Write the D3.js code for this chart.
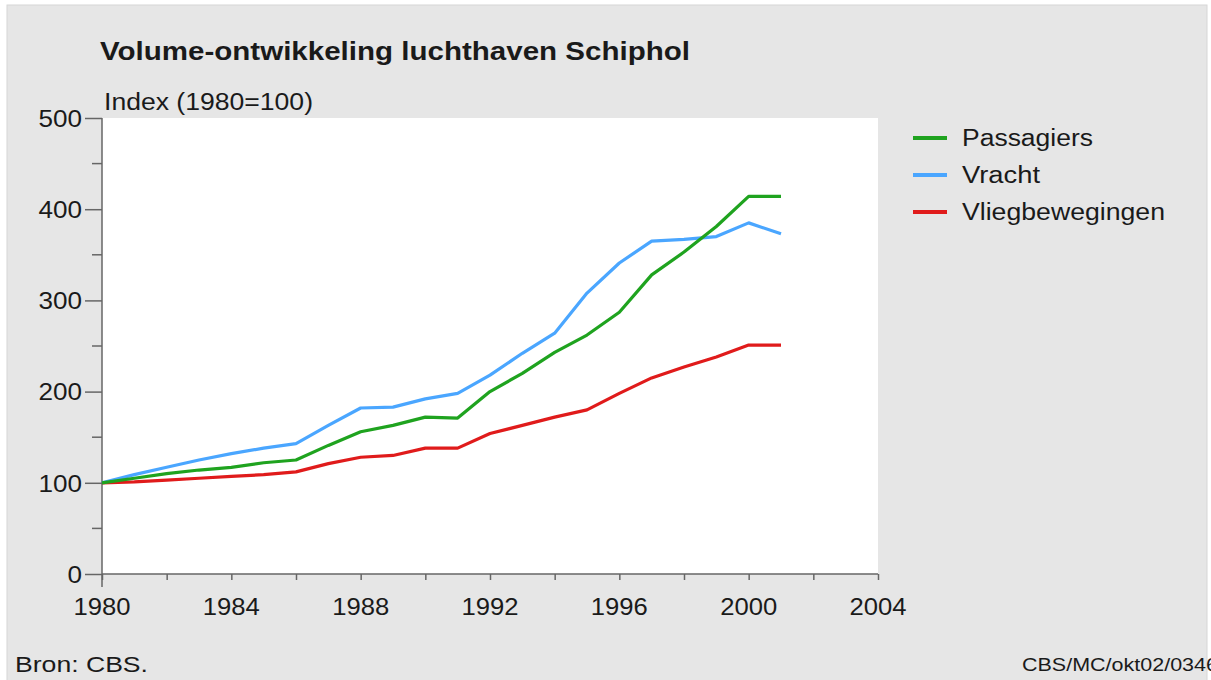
<!DOCTYPE html>
<html>
<head>
<meta charset="utf-8">
<script src="https://cdn.jsdelivr.net/npm/d3@7"></script>
<style>
  body { margin: 0; background: #ffffff; }
  text { font-family: "Liberation Sans", Arial, sans-serif; fill: #1a1a1a; }
</style>
</head>
<body>
<div id="chart"></div>
<script>
// data
let years = [1980, 1981, 1982, 1983, 1984, 1985, 1986, 1987, 1988, 1989, 1990,
             1991, 1992, 1993, 1994, 1995, 1996, 1997, 1998, 1999, 2000, 2001];
let passagiers = [100, 105, 110, 114, 117, 122, 125, 141, 156, 163, 172,
                  171, 200, 220, 243, 262, 287, 328, 353, 381, 414, 414];
let vracht = [100, 109, 117, 125, 132, 138, 143, 163, 182, 183, 192,
              198, 218, 242, 264, 308, 341, 365, 367, 370, 385, 373];
let vliegbewegingen = [100, 101, 103, 105, 107, 109, 112, 121, 128, 130, 138,
                       138, 154, 163, 172, 180, 198, 215, 227, 238, 251, 251];
let seriesNames = ["Passagiers", "Vracht", "Vliegbewegingen"];
let seriesColors = ["#1fa31f", "#4aa6ff", "#e01b1b"];
let yTicks = [0, 100, 200, 300, 400, 500];
let xTicks = [1980, 1984, 1988, 1992, 1996, 2000, 2004];

document.addEventListener("DOMContentLoaded", () => {
  let W = 1211, H = 680;
  let margin = { top: 118, right: 333, bottom: 106, left: 102 };
  let width = W - margin.left - margin.right;
  let height = H - margin.top - margin.bottom;

  let root = d3.select("#chart").append("svg")
      .attr("width", W)
      .attr("height", H);

  // grey panel
  root.append("rect")
      .attr("x", 7).attr("y", 5)
      .attr("width", 1200).attr("height", 680)
      .style("fill", "#e6e6e6")
      .style("stroke", "#d6d6d6");

  root.append("text")
      .attr("x", 100).attr("y", 60)
      .attr("textLength", 590).attr("lengthAdjust", "spacingAndGlyphs")
      .style("font-size", "25px").style("font-weight", "bold")
      .text("Volume-ontwikkeling luchthaven Schiphol");

  root.append("text")
      .attr("x", 104).attr("y", 110)
      .attr("textLength", 209).attr("lengthAdjust", "spacingAndGlyphs")
      .style("font-size", "23px")
      .text("Index (1980=100)");

  root.append("text")
      .attr("x", 15).attr("y", 672)
      .attr("textLength", 133).attr("lengthAdjust", "spacingAndGlyphs")
      .style("font-size", "22px")
      .text("Bron: CBS.");

  root.append("text")
      .attr("x", 1022).attr("y", 671)
      .attr("textLength", 196).attr("lengthAdjust", "spacingAndGlyphs")
      .style("font-size", "18px")
      .text("CBS/MC/okt02/0346");

  let svg = root.append("g")
      .attr("transform", "translate(" + margin.left + "," + margin.top + ")");

  svg.append("rect")
      .attr("width", width).attr("height", height)
      .style("fill", "#ffffff");

  let x = d3.scaleLinear().domain([1980, 2004]).range([0, width]);
  let y = d3.scaleLinear().domain([0, 500]).range([height, 0]);

  // y axis: major ticks with labels, minor ticks in between
  let yAxis = svg.append("g")
      .call(d3.axisLeft(y).tickValues(yTicks).tickSize(17).tickPadding(3));
  yAxis.select(".domain").remove();
  yAxis.selectAll("line").style("stroke", "#666").style("stroke-width", 1.5);
  yAxis.selectAll("text")
      .style("font-size", "23px").style("fill", "#1a1a1a")
      .attr("dy", "0.36em")
      .attr("textLength", d => String(d).length * 14.5)
      .attr("lengthAdjust", "spacingAndGlyphs");

  svg.append("g")
      .selectAll("line")
      .data(d3.range(50, 500, 100))
      .enter().append("line")
      .attr("x1", -10).attr("x2", 0)
      .attr("y1", d => y(d)).attr("y2", d => y(d))
      .style("stroke", "#666").style("stroke-width", 1.5);

  // x axis
  let xAxis = svg.append("g")
      .attr("transform", "translate(0," + height + ")")
      .call(d3.axisBottom(x).tickValues(d3.range(1980, 2005, 2)).tickSize(6).tickFormat(""));
  xAxis.select(".domain").remove();
  xAxis.selectAll("line").style("stroke", "#666").style("stroke-width", 1.5);

  svg.append("g")
      .selectAll("text")
      .data(xTicks)
      .enter().append("text")
      .attr("x", d => x(d))
      .attr("y", height + 41)
      .attr("text-anchor", "middle")
      .attr("textLength", 57).attr("lengthAdjust", "spacingAndGlyphs")
      .style("font-size", "23px")
      .text(d => d);

  svg.append("line")
      .attr("x1", 0).attr("x2", width)
      .attr("y1", height).attr("y2", height)
      .style("stroke", "#666").style("stroke-width", 1.5);
  svg.append("line")
      .attr("x1", 0).attr("x2", 0)
      .attr("y1", 0).attr("y2", height + 13)
      .style("stroke", "#666").style("stroke-width", 1.5);

  // lines
  let allSeries = [passagiers, vracht, vliegbewegingen];
  let line = d3.line()
      .x((d, i) => x(years[i]))
      .y(d => y(d));

  // draw red first so green/blue lie on top like the original
  [2, 1, 0].forEach(k => {
    svg.append("path")
       .datum(allSeries[k])
       .attr("d", line)
       .style("fill", "none")
       .style("stroke", seriesColors[k])
       .style("stroke-width", 3.2)
       .style("stroke-linejoin", "round");
  });

  // legend
  let legend = root.append("g").attr("transform", "translate(913,138)");
  seriesNames.forEach((name, i) => {
    legend.append("line")
      .attr("x1", 0).attr("x2", 34)
      .attr("y1", i * 37).attr("y2", i * 37)
      .style("stroke", seriesColors[i])
      .style("stroke-width", 4);
    legend.append("text")
      .attr("x", 49).attr("y", i * 37 + 8)
      .attr("textLength", [131, 78, 203][i]).attr("lengthAdjust", "spacingAndGlyphs")
      .style("font-size", "23px")
      .text(name);
  });
});
</script>
</body>
</html>
